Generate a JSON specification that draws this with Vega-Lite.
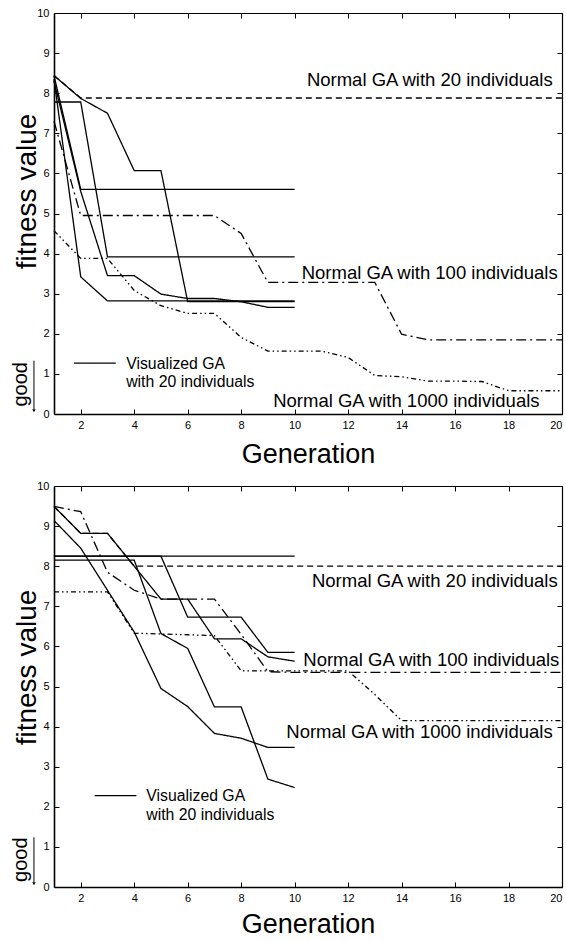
{
"$schema": "https://vega.github.io/schema/vega-lite/v6.json",
"padding": {"left": 10, "top": 7, "right": 0, "bottom": 0},
"spacing": 13,
"config": {"font": "Liberation Sans", "view": {"stroke": null},
  "axis": {"grid": false, "domainColor": "black", "tickColor": "black", "labelColor": "black", "titleColor": "black", "labelFont": "Liberation Sans", "titleFont": "Liberation Sans", "titleFontWeight": "normal", "labelFontSize": 11, "tickSize": -5, "tickWidth": 1, "domainWidth": 1.6, "labelPadding": 10}},
"datasets": {
"top": [
{"s":"vis","r":"A","x":1,"y":8.44},{"s":"vis","r":"A","x":2,"y":7.87},{"s":"vis","r":"A","x":3,"y":7.5},{"s":"vis","r":"A","x":4,"y":6.07},{"s":"vis","r":"A","x":5,"y":6.07},{"s":"vis","r":"A","x":6,"y":2.8},{"s":"vis","r":"A","x":7,"y":2.8},{"s":"vis","r":"A","x":8,"y":2.8},{"s":"vis","r":"A","x":9,"y":2.8},{"s":"vis","r":"A","x":10,"y":2.8},
{"s":"vis","r":"B","x":1,"y":7.78},{"s":"vis","r":"B","x":2,"y":7.78},{"s":"vis","r":"B","x":3,"y":3.92},{"s":"vis","r":"B","x":4,"y":3.92},{"s":"vis","r":"B","x":5,"y":3.92},{"s":"vis","r":"B","x":6,"y":3.92},{"s":"vis","r":"B","x":7,"y":3.92},{"s":"vis","r":"B","x":8,"y":3.92},{"s":"vis","r":"B","x":9,"y":3.92},{"s":"vis","r":"B","x":10,"y":3.92},
{"s":"vis","r":"C","x":1,"y":8.44},{"s":"vis","r":"C","x":2,"y":5.6},{"s":"vis","r":"C","x":3,"y":5.6},{"s":"vis","r":"C","x":4,"y":5.6},{"s":"vis","r":"C","x":5,"y":5.6},{"s":"vis","r":"C","x":6,"y":5.6},{"s":"vis","r":"C","x":7,"y":5.6},{"s":"vis","r":"C","x":8,"y":5.6},{"s":"vis","r":"C","x":9,"y":5.6},{"s":"vis","r":"C","x":10,"y":5.6},
{"s":"vis","r":"D","x":1,"y":8.35},{"s":"vis","r":"D","x":2,"y":3.42},{"s":"vis","r":"D","x":3,"y":2.82},{"s":"vis","r":"D","x":4,"y":2.82},{"s":"vis","r":"D","x":5,"y":2.82},{"s":"vis","r":"D","x":6,"y":2.82},{"s":"vis","r":"D","x":7,"y":2.82},{"s":"vis","r":"D","x":8,"y":2.82},{"s":"vis","r":"D","x":9,"y":2.82},{"s":"vis","r":"D","x":10,"y":2.82},
{"s":"vis","r":"E","x":1,"y":8.3},{"s":"vis","r":"E","x":2,"y":5.55},{"s":"vis","r":"E","x":3,"y":3.45},{"s":"vis","r":"E","x":4,"y":3.45},{"s":"vis","r":"E","x":5,"y":2.99},{"s":"vis","r":"E","x":6,"y":2.88},{"s":"vis","r":"E","x":7,"y":2.88},{"s":"vis","r":"E","x":8,"y":2.8},{"s":"vis","r":"E","x":9,"y":2.66},{"s":"vis","r":"E","x":10,"y":2.66},
{"s":"n20","r":"n20","x":1,"y":8.44},{"s":"n20","r":"n20","x":2,"y":7.88},{"s":"n20","r":"n20","x":3,"y":7.88},{"s":"n20","r":"n20","x":4,"y":7.88},{"s":"n20","r":"n20","x":5,"y":7.88},{"s":"n20","r":"n20","x":6,"y":7.88},{"s":"n20","r":"n20","x":7,"y":7.88},{"s":"n20","r":"n20","x":8,"y":7.88},{"s":"n20","r":"n20","x":9,"y":7.88},{"s":"n20","r":"n20","x":10,"y":7.88},{"s":"n20","r":"n20","x":11,"y":7.88},{"s":"n20","r":"n20","x":12,"y":7.88},{"s":"n20","r":"n20","x":13,"y":7.88},{"s":"n20","r":"n20","x":14,"y":7.88},{"s":"n20","r":"n20","x":15,"y":7.88},{"s":"n20","r":"n20","x":16,"y":7.88},{"s":"n20","r":"n20","x":17,"y":7.88},{"s":"n20","r":"n20","x":18,"y":7.88},{"s":"n20","r":"n20","x":19,"y":7.88},{"s":"n20","r":"n20","x":20,"y":7.88},
{"s":"n100","r":"n100","x":1,"y":7.3},{"s":"n100","r":"n100","x":2,"y":4.95},{"s":"n100","r":"n100","x":3,"y":4.95},{"s":"n100","r":"n100","x":4,"y":4.95},{"s":"n100","r":"n100","x":5,"y":4.95},{"s":"n100","r":"n100","x":6,"y":4.95},{"s":"n100","r":"n100","x":7,"y":4.95},{"s":"n100","r":"n100","x":8,"y":4.5},{"s":"n100","r":"n100","x":9,"y":3.28},{"s":"n100","r":"n100","x":10,"y":3.28},{"s":"n100","r":"n100","x":11,"y":3.28},{"s":"n100","r":"n100","x":12,"y":3.28},{"s":"n100","r":"n100","x":13,"y":3.28},{"s":"n100","r":"n100","x":14,"y":1.99},{"s":"n100","r":"n100","x":15,"y":1.85},{"s":"n100","r":"n100","x":16,"y":1.85},{"s":"n100","r":"n100","x":17,"y":1.85},{"s":"n100","r":"n100","x":18,"y":1.85},{"s":"n100","r":"n100","x":19,"y":1.85},{"s":"n100","r":"n100","x":20,"y":1.85},
{"s":"n1000","r":"n1000","x":1,"y":4.57},{"s":"n1000","r":"n1000","x":2,"y":3.88},{"s":"n1000","r":"n1000","x":3,"y":3.88},{"s":"n1000","r":"n1000","x":4,"y":3.08},{"s":"n1000","r":"n1000","x":5,"y":2.7},{"s":"n1000","r":"n1000","x":6,"y":2.51},{"s":"n1000","r":"n1000","x":7,"y":2.51},{"s":"n1000","r":"n1000","x":8,"y":1.91},{"s":"n1000","r":"n1000","x":9,"y":1.57},{"s":"n1000","r":"n1000","x":10,"y":1.57},{"s":"n1000","r":"n1000","x":11,"y":1.57},{"s":"n1000","r":"n1000","x":12,"y":1.41},{"s":"n1000","r":"n1000","x":13,"y":0.96},{"s":"n1000","r":"n1000","x":14,"y":0.93},{"s":"n1000","r":"n1000","x":15,"y":0.82},{"s":"n1000","r":"n1000","x":16,"y":0.82},{"s":"n1000","r":"n1000","x":17,"y":0.81},{"s":"n1000","r":"n1000","x":18,"y":0.58},{"s":"n1000","r":"n1000","x":19,"y":0.58},{"s":"n1000","r":"n1000","x":20,"y":0.58},
{"s":"vis","r":"legend","x":1.75,"y":1.27},{"s":"vis","r":"legend","x":3.31,"y":1.27}
],
"bot": [
{"s":"vis","r":"S1","x":1,"y":8.25},{"s":"vis","r":"S1","x":2,"y":8.25},{"s":"vis","r":"S1","x":3,"y":8.25},{"s":"vis","r":"S1","x":4,"y":8.25},{"s":"vis","r":"S1","x":5,"y":8.25},{"s":"vis","r":"S1","x":6,"y":8.25},{"s":"vis","r":"S1","x":7,"y":8.25},{"s":"vis","r":"S1","x":8,"y":8.25},{"s":"vis","r":"S1","x":9,"y":8.25},{"s":"vis","r":"S1","x":10,"y":8.25},
{"s":"vis","r":"S2","x":1,"y":8.15},{"s":"vis","r":"S2","x":2,"y":8.15},{"s":"vis","r":"S2","x":3,"y":8.15},{"s":"vis","r":"S2","x":4,"y":8.15},{"s":"vis","r":"S2","x":5,"y":6.32},{"s":"vis","r":"S2","x":6,"y":5.95},{"s":"vis","r":"S2","x":7,"y":4.49},{"s":"vis","r":"S2","x":8,"y":4.49},{"s":"vis","r":"S2","x":9,"y":2.69},{"s":"vis","r":"S2","x":10,"y":2.48},
{"s":"vis","r":"S3","x":1,"y":8.25},{"s":"vis","r":"S3","x":2,"y":8.25},{"s":"vis","r":"S3","x":3,"y":8.25},{"s":"vis","r":"S3","x":4,"y":8.25},{"s":"vis","r":"S3","x":5,"y":8.25},{"s":"vis","r":"S3","x":6,"y":6.73},{"s":"vis","r":"S3","x":7,"y":6.73},{"s":"vis","r":"S3","x":8,"y":6.73},{"s":"vis","r":"S3","x":9,"y":5.85},{"s":"vis","r":"S3","x":10,"y":5.85},
{"s":"vis","r":"S4","x":1,"y":9.14},{"s":"vis","r":"S4","x":2,"y":8.45},{"s":"vis","r":"S4","x":3,"y":7.4},{"s":"vis","r":"S4","x":4,"y":6.36},{"s":"vis","r":"S4","x":5,"y":4.95},{"s":"vis","r":"S4","x":6,"y":4.5},{"s":"vis","r":"S4","x":7,"y":3.83},{"s":"vis","r":"S4","x":8,"y":3.71},{"s":"vis","r":"S4","x":9,"y":3.48},{"s":"vis","r":"S4","x":10,"y":3.48},
{"s":"vis","r":"S5","x":1,"y":9.49},{"s":"vis","r":"S5","x":2,"y":8.82},{"s":"vis","r":"S5","x":3,"y":8.82},{"s":"vis","r":"S5","x":4,"y":8.0},{"s":"vis","r":"S5","x":5,"y":7.18},{"s":"vis","r":"S5","x":6,"y":7.18},{"s":"vis","r":"S5","x":7,"y":6.19},{"s":"vis","r":"S5","x":8,"y":6.19},{"s":"vis","r":"S5","x":9,"y":5.74},{"s":"vis","r":"S5","x":10,"y":5.63},
{"s":"n20","r":"n20","x":1,"y":9.49},{"s":"n20","r":"n20","x":2,"y":8.82},{"s":"n20","r":"n20","x":3,"y":8.82},{"s":"n20","r":"n20","x":4,"y":8.0},{"s":"n20","r":"n20","x":5,"y":8.0},{"s":"n20","r":"n20","x":6,"y":8.0},{"s":"n20","r":"n20","x":7,"y":8.0},{"s":"n20","r":"n20","x":8,"y":8.0},{"s":"n20","r":"n20","x":9,"y":8.0},{"s":"n20","r":"n20","x":10,"y":8.0},{"s":"n20","r":"n20","x":11,"y":8.0},{"s":"n20","r":"n20","x":12,"y":8.0},{"s":"n20","r":"n20","x":13,"y":8.0},{"s":"n20","r":"n20","x":14,"y":8.0},{"s":"n20","r":"n20","x":15,"y":8.0},{"s":"n20","r":"n20","x":16,"y":8.0},{"s":"n20","r":"n20","x":17,"y":8.0},{"s":"n20","r":"n20","x":18,"y":8.0},{"s":"n20","r":"n20","x":19,"y":8.0},{"s":"n20","r":"n20","x":20,"y":8.0},
{"s":"n100","r":"n100","x":1,"y":9.49},{"s":"n100","r":"n100","x":2,"y":9.36},{"s":"n100","r":"n100","x":3,"y":7.85},{"s":"n100","r":"n100","x":4,"y":7.4},{"s":"n100","r":"n100","x":5,"y":7.18},{"s":"n100","r":"n100","x":6,"y":7.18},{"s":"n100","r":"n100","x":7,"y":7.18},{"s":"n100","r":"n100","x":8,"y":6.3},{"s":"n100","r":"n100","x":9,"y":5.37},{"s":"n100","r":"n100","x":10,"y":5.35},{"s":"n100","r":"n100","x":11,"y":5.35},{"s":"n100","r":"n100","x":12,"y":5.35},{"s":"n100","r":"n100","x":13,"y":5.35},{"s":"n100","r":"n100","x":14,"y":5.35},{"s":"n100","r":"n100","x":15,"y":5.35},{"s":"n100","r":"n100","x":16,"y":5.35},{"s":"n100","r":"n100","x":17,"y":5.35},{"s":"n100","r":"n100","x":18,"y":5.35},{"s":"n100","r":"n100","x":19,"y":5.35},{"s":"n100","r":"n100","x":20,"y":5.35},
{"s":"n1000","r":"n1000","x":1,"y":7.36},{"s":"n1000","r":"n1000","x":2,"y":7.36},{"s":"n1000","r":"n1000","x":3,"y":7.36},{"s":"n1000","r":"n1000","x":4,"y":6.33},{"s":"n1000","r":"n1000","x":5,"y":6.31},{"s":"n1000","r":"n1000","x":6,"y":6.29},{"s":"n1000","r":"n1000","x":7,"y":6.27},{"s":"n1000","r":"n1000","x":8,"y":5.39},{"s":"n1000","r":"n1000","x":9,"y":5.39},{"s":"n1000","r":"n1000","x":10,"y":5.39},{"s":"n1000","r":"n1000","x":11,"y":5.39},{"s":"n1000","r":"n1000","x":12,"y":5.39},{"s":"n1000","r":"n1000","x":13,"y":4.8},{"s":"n1000","r":"n1000","x":14,"y":4.15},{"s":"n1000","r":"n1000","x":15,"y":4.15},{"s":"n1000","r":"n1000","x":16,"y":4.15},{"s":"n1000","r":"n1000","x":17,"y":4.15},{"s":"n1000","r":"n1000","x":18,"y":4.15},{"s":"n1000","r":"n1000","x":19,"y":4.15},{"s":"n1000","r":"n1000","x":20,"y":4.15},
{"s":"vis","r":"legend","x":2.52,"y":2.28},{"s":"vis","r":"legend","x":4.08,"y":2.28}
],
"topAnn": [
{"t":"Normal GA with 20 individuals","x":19.65,"y":8.33},
{"t":"Normal GA with 100 individuals","x":19.84,"y":3.51},
{"t":"Normal GA with 1000 individuals","x":19.16,"y":0.33}
],
"botAnn": [
{"t":"Normal GA with 20 individuals","x":19.84,"y":7.62},
{"t":"Normal GA with 100 individuals","x":19.9,"y":5.65},
{"t":"Normal GA with 1000 individuals","x":19.65,"y":3.87}
],
"topLeg": [
{"t":"Visualized GA","x":3.7,"y":1.25},
{"t":"with 20 individuals","x":3.7,"y":0.79}
],
"botLeg": [
{"t":"Visualized GA","x":4.45,"y":2.26},
{"t":"with 20 individuals","x":4.45,"y":1.8}
],
"topGood": [{"t":"good","x":-0.25,"y":0.74,"ax":0.25,"ay":1.33,"ay2":0.12,"hy":0.08}],
"botGood": [{"t":"good","x":-0.25,"y":0.68,"ax":0.25,"ay":1.24,"ay2":0.12,"hy":0.08}],
"corner": [{"x":1,"y":0}]
},
"vconcat": [
{
 "width": 508, "height": 401,
 "resolve": {"axis": {"x": "independent", "y": "independent"}},
 "layer": [
  {"data": {"name": "top"}, "mark": {"type": "line", "color": "black", "strokeWidth": 1.3},
   "encoding": {
    "x": {"field": "x", "type": "quantitative", "scale": {"domain": [1, 20], "nice": false, "zero": false},
          "axis": {"orient": "bottom", "values": [2,4,6,8,10,12,14,16,18,20], "title": "Generation", "titleFontSize": 27, "titleY": 40, "titleBaseline": "middle"}},
    "y": {"field": "y", "type": "quantitative", "scale": {"domain": [0, 10], "nice": false},
          "axis": {"orient": "left", "values": [0,1,2,3,4,5,6,7,8,9,10], "title": "fitness value", "titleFontSize": 28, "titleX": -27, "titleY": 178, "titleBaseline": "middle"}},
    "detail": {"field": "r"},
    "strokeDash": {"field": "s", "type": "nominal", "scale": {"domain": ["vis","n20","n100","n1000"], "range": [[1,0],[6,4],[10,4,2,4],[5,3,1.5,3,1.5,3]]}, "legend": null}
   }},
  {"data": {"name": "corner"}, "mark": {"type": "point", "opacity": 0},
   "encoding": {
    "x": {"field": "x", "type": "quantitative", "axis": {"orient": "top", "values": [2,4,6,8,10,12,14,16,18,20], "labels": false, "title": null, "domainWidth": 1.2}},
    "y": {"field": "y", "type": "quantitative", "axis": {"orient": "right", "values": [0,1,2,3,4,5,6,7,8,9,10], "labels": false, "title": null, "domainWidth": 1.2}}
   }},
  {"data": {"name": "topAnn"}, "mark": {"type": "text", "align": "right", "baseline": "middle", "fontSize": 18.5, "color": "black"},
   "encoding": {"x": {"field": "x", "type": "quantitative", "axis": null}, "y": {"field": "y", "type": "quantitative", "axis": null}, "text": {"field": "t"}}},
  {"data": {"name": "topLeg"}, "mark": {"type": "text", "align": "left", "baseline": "middle", "fontSize": 15.8, "color": "black"},
   "encoding": {"x": {"field": "x", "type": "quantitative", "axis": null}, "y": {"field": "y", "type": "quantitative", "axis": null}, "text": {"field": "t"}}},
  {"data": {"name": "topGood"}, "mark": {"type": "text", "align": "center", "baseline": "middle", "angle": 270, "fontSize": 20, "color": "black"},
   "encoding": {"x": {"field": "x", "type": "quantitative", "axis": null}, "y": {"field": "y", "type": "quantitative", "axis": null}, "text": {"field": "t"}}},
  {"data": {"name": "topGood"}, "mark": {"type": "rule", "color": "black", "strokeWidth": 1},
   "encoding": {"x": {"field": "ax", "type": "quantitative", "axis": null}, "y": {"field": "ay", "type": "quantitative", "axis": null}, "y2": {"field": "ay2"}}},
  {"data": {"name": "topGood"}, "mark": {"type": "point", "shape": "triangle-down", "filled": true, "color": "black", "size": 12, "opacity": 1},
   "encoding": {"x": {"field": "ax", "type": "quantitative", "axis": null}, "y": {"field": "hy", "type": "quantitative", "axis": null}}}
 ]
},
{
 "width": 508, "height": 401,
 "resolve": {"axis": {"x": "independent", "y": "independent"}},
 "layer": [
  {"data": {"name": "bot"}, "mark": {"type": "line", "color": "black", "strokeWidth": 1.3},
   "encoding": {
    "x": {"field": "x", "type": "quantitative", "scale": {"domain": [1, 20], "nice": false, "zero": false},
          "axis": {"orient": "bottom", "values": [2,4,6,8,10,12,14,16,18,20], "title": "Generation", "titleFontSize": 27, "titleY": 37, "titleBaseline": "middle"}},
    "y": {"field": "y", "type": "quantitative", "scale": {"domain": [0, 10], "nice": false},
          "axis": {"orient": "left", "values": [0,1,2,3,4,5,6,7,8,9,10], "title": "fitness value", "titleFontSize": 28, "titleX": -27, "titleY": 181, "titleBaseline": "middle"}},
    "detail": {"field": "r"},
    "strokeDash": {"field": "s", "type": "nominal", "scale": {"domain": ["vis","n20","n100","n1000"], "range": [[1,0],[6,4],[10,4,2,4],[5,3,1.5,3,1.5,3]]}, "legend": null}
   }},
  {"data": {"name": "corner"}, "mark": {"type": "point", "opacity": 0},
   "encoding": {
    "x": {"field": "x", "type": "quantitative", "axis": {"orient": "top", "values": [2,4,6,8,10,12,14,16,18,20], "labels": false, "title": null, "domainWidth": 1.2}},
    "y": {"field": "y", "type": "quantitative", "axis": {"orient": "right", "values": [0,1,2,3,4,5,6,7,8,9,10], "labels": false, "title": null, "domainWidth": 1.2}}
   }},
  {"data": {"name": "botAnn"}, "mark": {"type": "text", "align": "right", "baseline": "middle", "fontSize": 18.5, "color": "black"},
   "encoding": {"x": {"field": "x", "type": "quantitative", "axis": null}, "y": {"field": "y", "type": "quantitative", "axis": null}, "text": {"field": "t"}}},
  {"data": {"name": "botLeg"}, "mark": {"type": "text", "align": "left", "baseline": "middle", "fontSize": 15.8, "color": "black"},
   "encoding": {"x": {"field": "x", "type": "quantitative", "axis": null}, "y": {"field": "y", "type": "quantitative", "axis": null}, "text": {"field": "t"}}},
  {"data": {"name": "botGood"}, "mark": {"type": "text", "align": "center", "baseline": "middle", "angle": 270, "fontSize": 20, "color": "black"},
   "encoding": {"x": {"field": "x", "type": "quantitative", "axis": null}, "y": {"field": "y", "type": "quantitative", "axis": null}, "text": {"field": "t"}}},
  {"data": {"name": "botGood"}, "mark": {"type": "rule", "color": "black", "strokeWidth": 1},
   "encoding": {"x": {"field": "ax", "type": "quantitative", "axis": null}, "y": {"field": "ay", "type": "quantitative", "axis": null}, "y2": {"field": "ay2"}}},
  {"data": {"name": "botGood"}, "mark": {"type": "point", "shape": "triangle-down", "filled": true, "color": "black", "size": 12, "opacity": 1},
   "encoding": {"x": {"field": "ax", "type": "quantitative", "axis": null}, "y": {"field": "hy", "type": "quantitative", "axis": null}}}
 ]
}
]
}
